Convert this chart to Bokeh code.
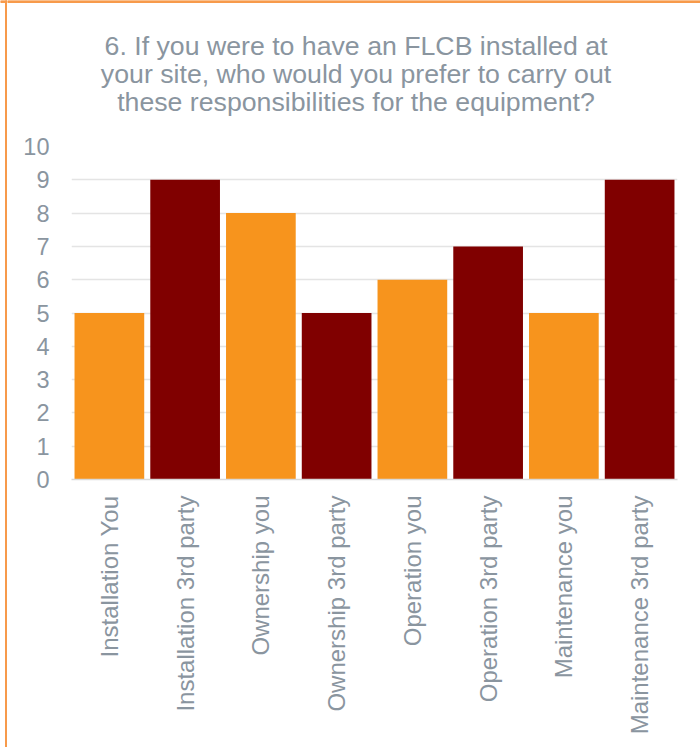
import math
from bokeh.plotting import figure
from bokeh.layouts import row, column
from bokeh.models import Range1d, FixedTicker
from bokeh.core.properties import value
from bokeh.embed import file_html
from bokeh.resources import INLINE
import numpy as np

# Survey answers: preferred party for each responsibility
categories = [
    "Installation You", "Installation 3rd party",
    "Ownership you", "Ownership 3rd party",
    "Operation you", "Operation 3rd party",
    "Maintenance you", "Maintenance 3rd party",
]
counts = [5, 9, 8, 5, 6, 7, 5, 9]
y_ticks = list(range(0, 11))
title_lines = [
    "6. If you were to have an FLCB installed at",
    "your site, who would you prefer to carry out",
    "these responsibilities for the equipment?",
]

ORANGE = "#F7941D"
MAROON = "#800000"
GREY = "#8A959F"
EDGE = "#F79A4B"
FONT = "Liberation Sans"

W, H = 700, 747
EDGE_W = 7            # strip holding the orange left rule
HEAD_H = 130          # strip holding the heading
Y_MAX = 10


def bare(width, height):
    f = figure(width=width, height=height,
               x_range=Range1d(0, width), y_range=Range1d(0, height),
               x_axis_location=None, y_axis_location=None,
               min_border=0, output_backend="svg", toolbar_location=None)
    f.outline_line_color = None
    f.grid.visible = False
    f.border_fill_color = "white"
    f.frame_align = False
    return f


# orange rule down the left side and along the top
edge = bare(EDGE_W, H)
edge.quad(left=5, right=7, bottom=0, top=H, color=EDGE)
edge.quad(left=0, right=EDGE_W, bottom=H - 2, top=H, color=EDGE)

# heading
head = bare(W - EDGE_W, HEAD_H)
head.quad(left=0, right=W - EDGE_W, bottom=HEAD_H - 2, top=HEAD_H, color=EDGE)
head.text(x=[355.5 - EDGE_W] * 3, y=[HEAD_H - 45, HEAD_H - 73, HEAD_H - 101],
          text=title_lines, text_align="center", text_baseline="middle",
          text_font=value(FONT), text_font_size="26.7px", text_color=GREY)

# bar chart
x = np.arange(len(categories)) + 0.5
colors = [ORANGE if i % 2 == 0 else MAROON for i in range(len(categories))]

p = figure(
    width=W - EDGE_W, height=H - HEAD_H,
    x_range=Range1d(0, len(categories)), y_range=Range1d(0, Y_MAX),
    output_backend="svg", toolbar_location=None,
    min_border_left=71 - EDGE_W, min_border_right=23,
    min_border_top=16, min_border_bottom=268,
)
p.frame_align = False
p.outline_line_color = None
p.background_fill_color = "white"
p.border_fill_color = "white"

p.vbar(x=x, top=counts, width=0.92, fill_color=colors, line_color=None)

p.xaxis.ticker = FixedTicker(ticks=list(x))
p.xaxis.major_label_overrides = {float(v): c for v, c in zip(x, categories)}
p.xaxis.major_label_orientation = math.pi / 2
p.xaxis.major_tick_line_color = None
p.xaxis.minor_tick_line_color = None
p.xaxis.axis_line_color = "#D9D9D9"
p.xaxis.axis_line_width = 1.5
p.xaxis.major_label_standoff = 10
p.xaxis.major_label_text_font = FONT
p.xaxis.major_label_text_font_size = "24px"
p.xaxis.major_label_text_color = GREY

p.yaxis.ticker = FixedTicker(ticks=y_ticks)
p.yaxis.axis_line_color = None
p.yaxis.major_tick_line_color = None
p.yaxis.minor_tick_line_color = None
p.yaxis.major_label_standoff = 16
p.yaxis.major_label_text_font = FONT
p.yaxis.major_label_text_font_size = "23.5px"
p.yaxis.major_label_text_color = GREY

p.xgrid.grid_line_color = None
p.ygrid.grid_line_color = "#E4E4E4"
p.ygrid.grid_line_width = 1.5

page = row(edge, column(head, p, spacing=0), spacing=0)
open("out.html", "w").write(file_html(page, INLINE))
